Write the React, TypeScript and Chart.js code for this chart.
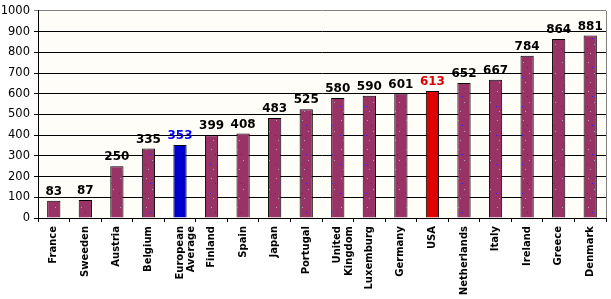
import React, { useEffect, useRef } from "react";
import { Chart, registerables } from "chart.js";

Chart.register(...registerables);

const categories: (string | string[])[] = [
  "France", "Sweeden", "Austria", "Belgium", ["European", "Average"], "Finland", "Spain",
  "Japan", "Portugal", ["United", "Kingdom"], "Luxemburg", "Germany", "USA",
  "Netherlands", "Italy", "Ireland", "Greece", "Denmark",
];
const values: number[] = [83, 87, 250, 335, 353, 399, 408, 483, 525, 580, 590, 601, 613, 652, 667, 784, 864, 881];
const highlightBlue = "European Average";
const highlightRed = "USA";

const BAR = "#993366";
const BLUE = "#0000CC";
const RED = "#DD0000";

const nameOf = (c: string | string[]) => (Array.isArray(c) ? c.join(" ") : c);

function makePattern(ctx: CanvasRenderingContext2D, base: string) {
  const t = document.createElement("canvas");
  t.width = 13;
  t.height = 29;
  const c = t.getContext("2d")!;
  c.fillStyle = base;
  c.fillRect(0, 0, 13, 29);
  c.fillStyle = "#A8A8A8";
  c.fillRect(3, 4, 1, 1);
  c.fillRect(9, 15, 1, 1);
  c.fillRect(5, 24, 1, 1);
  c.fillStyle = "#2020FF";
  c.fillRect(7, 9, 1, 1);
  c.fillRect(2, 19, 1, 1);
  return ctx.createPattern(t, "repeat")!;
}

export default function App() {
  const ref = useRef<HTMLCanvasElement | null>(null);
  useEffect(() => {
    document.body.style.margin = "0";
    const ctx = ref.current!.getContext("2d")!;
    const pattern = makePattern(ctx, BAR);
    const colors = categories.map((c) =>
      nameOf(c) === highlightBlue ? BLUE : nameOf(c) === highlightRed ? RED : pattern
    );
    const labelColors = categories.map((c) =>
      nameOf(c) === highlightBlue ? "#0000FF" : nameOf(c) === highlightRed ? RED : "#000000"
    );

    const plugin = {
      id: "deco",
      beforeDraw(chart: any) {
        const { ctx, chartArea: a } = chart;
        ctx.save();
        ctx.fillStyle = "#FFFDF8";
        ctx.fillRect(a.left, a.top, a.right - a.left, a.bottom - a.top);
        ctx.restore();
      },
      afterDraw(chart: any) {
        const { ctx, chartArea: a } = chart;
        ctx.save();
        ctx.strokeStyle = "#808080";
        ctx.lineWidth = 1;
        ctx.beginPath();
        ctx.moveTo(Math.round(a.right) + 0.5, a.top);
        ctx.lineTo(Math.round(a.right) + 0.5, a.bottom);
        ctx.stroke();
        const meta = chart.getDatasetMeta(0);
        ctx.font = "bold 12px 'DejaVu Sans'";
        ctx.textAlign = "center";
        ctx.textBaseline = "alphabetic";
        meta.data.forEach((el: any, i: number) => {
          ctx.fillStyle = labelColors[i];
          ctx.fillText(String(values[i]), el.x, el.y - 6);
        });
        ctx.restore();
      },
    };

    const chart = new Chart(ctx, {
      type: "bar",
      data: {
        labels: categories,
        datasets: [
          {
            data: values,
            backgroundColor: colors,
            borderColor: "#000000",
            borderWidth: 1,
            barPercentage: 0.42,
            categoryPercentage: 1,
          },
        ],
      },
      options: {
        animation: false,
        responsive: true,
        maintainAspectRatio: false,
        layout: { padding: { top: 10, right: 5, left: 0, bottom: 0 } },
        plugins: { legend: { display: false }, tooltip: { enabled: false } },
        scales: {
          x: {
            offset: true,
            grid: {
              offset: true,
              drawOnChartArea: false,
              drawTicks: true,
              tickLength: 4,
              color: "#000000",
            },
            border: { display: true, color: "#000000" },
            ticks: {
              autoSkip: false,
              minRotation: 90,
              maxRotation: 90,
              padding: 4,
              color: "#000000",
              font: { family: "'DejaVu Sans'", size: 10, weight: "bold", lineHeight: 1.15 },
            },
            afterFit(scale: any) {
              scale.height = 81;
            },
          },
          y: {
            min: 0,
            max: 1000,
            ticks: {
              stepSize: 100,
              padding: 4,
              color: "#000000",
              font: { family: "'DejaVu Sans'", size: 11.5 },
              callback: (v: any) => String(v),
            },
            grid: {
              color: (c: any) => (c.tick && c.tick.value === 1000 ? "#808080" : "#000000"),
              tickLength: 4,
              lineWidth: 1,
            },
            border: { display: true, color: "#000000" },
            afterFit(scale: any) {
              scale.width = 38;
            },
          },
        },
      },
      plugins: [plugin],
    });
    return () => chart.destroy();
  }, []);
  return (
    <div style={{ width: 611, height: 299, position: "relative" }}>
      <canvas ref={ref} />
    </div>
  );
}
